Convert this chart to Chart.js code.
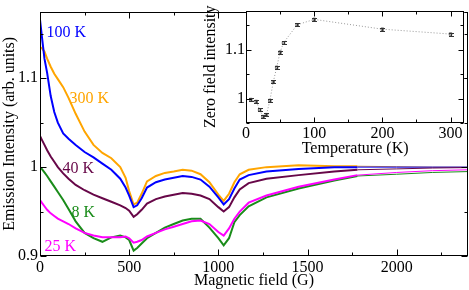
<!DOCTYPE html>
<html>
<head>
<meta charset="utf-8">
<script src="https://cdn.jsdelivr.net/npm/chart.js@4.4.1/dist/chart.umd.min.js"></script>
<style>
  html, body { margin: 0; padding: 0; background: #fff; }
  #wrap { position: relative; width: 469px; height: 290px; }
  #main { position: absolute; left: 0; top: 0; }
  #inset { position: absolute; left: 180px; top: 0; }
</style>
</head>
<body>
<div id="wrap">
  <canvas id="main" width="469" height="290"></canvas>
  <canvas id="inset" width="289" height="160"></canvas>
</div>
<script>
// magnetic field (G) where the curves were read
const field = [0, 10, 25, 40, 60, 80, 100, 130, 160, 200, 250, 300, 350, 400, 450, 480, 500, 525, 545, 570,
  600, 650, 700, 750, 800, 850, 900, 950, 1000, 1030, 1060, 1090, 1120, 1170, 1270, 1450, 1650, 1780];

const int100K = [1.166, 1.148, 1.122, 1.106, 1.080, 1.062, 1.050, 1.038, 1.032, 1.025, 1.017, 1.011, 1.004, 0.997, 0.987, 0.977, 0.968, 0.955, 0.957, 0.965,
  0.977, 0.983, 0.986, 0.988, 0.990, 0.989, 0.986, 0.978, 0.966, 0.958, 0.964, 0.976, 0.986, 0.991, 0.995, 0.998, 1.000, 1.000];
const int300K = [1.135, 1.134, 1.130, 1.122, 1.113, 1.105, 1.099, 1.090, 1.078, 1.060, 1.040, 1.025, 1.016, 1.010, 1.000, 0.988, 0.973, 0.958, 0.960, 0.970,
  0.984, 0.990, 0.9935, 0.995, 0.997, 0.996, 0.992, 0.983, 0.969, 0.962, 0.970, 0.983, 0.992, 0.997, 1.000, 1.002, 1.001, 1.001];
const int40K = [1.035, 1.031, 1.025, 1.019, 1.012, 1.006, 1.000, 0.993, 0.987, 0.980, 0.974, 0.969, 0.965, 0.961, 0.957, 0.954, 0.951, 0.944, 0.947, 0.952,
  0.959, 0.964, 0.967, 0.969, 0.971, 0.970, 0.968, 0.964, 0.955, 0.950, 0.955, 0.966, 0.975, 0.982, 0.987, 0.991, 0.995, 0.997];
const int8K = [1.000, 0.998, 0.994, 0.990, 0.984, 0.978, 0.972, 0.963, 0.953, 0.939, 0.926, 0.920, 0.916, 0.921, 0.923, 0.921, 0.918, 0.906, 0.909, 0.914,
  0.920, 0.926, 0.932, 0.936, 0.940, 0.942, 0.942, 0.932, 0.920, 0.912, 0.920, 0.938, 0.946, 0.956, 0.966, 0.976, 0.985, 0.990];
const int25K = [0.963, 0.960, 0.956, 0.952, 0.948, 0.945, 0.942, 0.939, 0.936, 0.931, 0.926, 0.923, 0.921, 0.921, 0.921, 0.922, 0.920, 0.915, 0.916, 0.918,
  0.922, 0.926, 0.930, 0.933, 0.936, 0.939, 0.940, 0.936, 0.927, 0.923, 0.931, 0.942, 0.950, 0.960, 0.968, 0.978, 0.986, 0.991];

// fitted curves continuing past the measured range
const fitField = [1780, 2000, 2200, 2400];
const fit100K = [1.000, 1.000, 1.000, 1.000];
const fit300K = [1.001, 1.0005, 1.000, 1.000];
const fit40K = [0.997, 0.998, 0.999, 0.9995];
const fit8K = [0.990, 0.992, 0.994, 0.995];
const fit25K = [0.991, 0.994, 0.996, 0.997];

// inset: zero field intensity vs temperature
const temps = [7, 15, 20, 25, 30, 35, 40, 45, 50, 55, 75, 100, 200, 300];
const zeroField = [0.998, 0.994, 0.977, 0.963, 0.967, 0.996, 1.034, 1.064, 1.095, 1.114, 1.151, 1.162, 1.142, 1.132];
const zeroFieldErr = [0.003, 0.003, 0.003, 0.003, 0.003, 0.003, 0.003, 0.003, 0.003, 0.003, 0.003, 0.003, 0.003, 0.003];

const curveLabels = [
  { text: '100 K', x: 36, y: 1.151, color: '#0000ff' },
  { text: '300 K', x: 165, y: 1.0764, color: '#ffa500' },
  { text: '40 K', x: 126, y: 0.9976, color: '#670748' },
  { text: '8 K', x: 177, y: 0.949, color: '#1a8c1a' },
  { text: '25 K', x: 25, y: 0.910, color: '#ff00ff' }
];

Chart.defaults.font.family = "'Liberation Serif', 'Times New Roman', serif";
Chart.defaults.font.size = 16;
Chart.defaults.color = '#000';

const pts = (xs, ys) => xs.map((x, i) => ({ x: x, y: ys[i] }));

function line(label, xs, ys, color, width) {
  return {
    label: label,
    data: pts(xs, ys),
    borderColor: color,
    borderWidth: width,
    pointRadius: 0,
    tension: 0,
    fill: false
  };
}

// box around the plot with inward ticks on all four sides
const frameTicks = {
  id: 'frameTicks',
  afterDraw(chart, args, opts) {
    const { ctx, chartArea: a } = chart;
    const xs = chart.scales.x, ys = chart.scales.y;
    const L = Math.round(a.left) + 0.5, R = Math.round(a.right) - 0.5;
    const T = Math.round(a.top) + 0.5, B = Math.round(a.bottom) - 0.5;
    ctx.save();
    ctx.strokeStyle = '#000';
    ctx.lineWidth = 1;
    ctx.strokeRect(L, T, R - L, B - T);
    ctx.beginPath();
    xs.ticks.forEach(t => {
      const p = Math.round(xs.getPixelForValue(t.value)) + 0.5;
      const len = t.label !== '' ? opts.major : opts.minor;
      ctx.moveTo(p, B); ctx.lineTo(p, B - len);
      ctx.moveTo(p, T); ctx.lineTo(p, T + len);
    });
    ys.ticks.forEach(t => {
      const p = Math.round(ys.getPixelForValue(t.value)) + 0.5;
      const len = t.label !== '' ? opts.major : opts.minor;
      ctx.moveTo(L, p); ctx.lineTo(L + len, p);
      ctx.moveTo(R, p); ctx.lineTo(R - len, p);
    });
    ctx.stroke();
    ctx.restore();
  }
};

const textLabels = {
  id: 'textLabels',
  afterDatasetsDraw(chart) {
    const { ctx } = chart;
    ctx.save();
    ctx.font = "16px 'Liberation Serif', serif";
    ctx.textAlign = 'left';
    ctx.textBaseline = 'middle';
    curveLabels.forEach(l => {
      ctx.fillStyle = l.color;
      ctx.fillText(l.text, chart.scales.x.getPixelForValue(l.x), chart.scales.y.getPixelForValue(l.y));
    });
    ctx.restore();
  }
};

new Chart(document.getElementById('main'), {
  type: 'line',
  data: {
    datasets: [
      line('25 K', field, int25K, '#ff00ff', 2),
      line('8 K', field, int8K, '#1a8c1a', 2),
      line('40 K', field, int40K, '#670748', 2),
      line('100 K', field, int100K, '#0000ff', 2),
      line('300 K', field, int300K, '#ffa500', 2),
      line('fit 25 K', fitField, fit25K, '#ff00ff', 1),
      line('fit 8 K', fitField, fit8K, '#1a8c1a', 1),
      line('fit 40 K', fitField, fit40K, '#670748', 1),
      line('fit 100 K', fitField, fit100K, '#0000ff', 1),
      line('fit 300 K', fitField, fit300K, '#d08a3a', 1)
    ]
  },
  options: {
    responsive: false,
    animation: false,
    devicePixelRatio: 1,
    layout: { padding: { left: 0, right: 1, top: 2, bottom: 0 } },
    plugins: { legend: { display: false }, tooltip: { enabled: false }, frameTicks: { major: 6, minor: 3 } },
    scales: {
      x: {
        type: 'linear',
        min: 0, max: 2400,
        grid: { display: false, drawTicks: false },
        border: { display: false },
        ticks: {
          stepSize: 250, autoSkip: false, maxRotation: 0, includeBounds: false, padding: 2,
          callback: v => (v % 500 === 0 ? String(v) : '')
        },
        title: { display: true, text: 'Magnetic field (G)', padding: { top: 0, bottom: 0 } },
        afterFit: s => { s.height = 34; }
      },
      y: {
        min: 0.9, max: 1.175,
        grid: { display: false, drawTicks: false },
        border: { display: false },
        ticks: {
          stepSize: 0.05, autoSkip: false, includeBounds: false, padding: 2,
          callback: v => {
            const r = Math.round(v * 100);
            return r % 10 === 0 ? String(r / 100) : '';
          }
        },
        title: { display: true, text: 'Emission Intensity (arb. units)', padding: { top: 0, bottom: 0 } },
        afterFit: s => { s.width = 40; }
      }
    }
  },
  plugins: [frameTicks, textLabels]
});

// white plot area for the inset, drawn over the main curves
const insetBg = {
  id: 'insetBg',
  beforeDraw(chart) {
    const { ctx, chartArea: a } = chart;
    ctx.save();
    ctx.fillStyle = '#fff';
    ctx.fillRect(a.left, a.top, a.right - a.left, a.bottom - a.top);
    ctx.restore();
  }
};

const errorBars = {
  id: 'errorBars',
  afterDatasetsDraw(chart) {
    const { ctx } = chart;
    const xs = chart.scales.x, ys = chart.scales.y;
    ctx.save();
    ctx.strokeStyle = '#333';
    ctx.lineWidth = 1;
    ctx.beginPath();
    temps.forEach((t, i) => {
      const px = Math.round(xs.getPixelForValue(t)) + 0.5;
      const top = Math.round(ys.getPixelForValue(zeroField[i] + zeroFieldErr[i])) + 0.5;
      const bot = Math.round(ys.getPixelForValue(zeroField[i] - zeroFieldErr[i])) + 0.5;
      ctx.moveTo(px, top); ctx.lineTo(px, bot);
      ctx.moveTo(px - 2.5, top); ctx.lineTo(px + 2.5, top);
      ctx.moveTo(px - 2.5, bot); ctx.lineTo(px + 2.5, bot);
    });
    ctx.stroke();
    ctx.restore();
  }
};

new Chart(document.getElementById('inset'), {
  type: 'line',
  data: {
    datasets: [{
      label: 'Zero field intensity',
      data: pts(temps, zeroField),
      borderColor: '#999',
      borderWidth: 1,
      borderDash: [1, 2],
      pointStyle: 'rect',
      pointRadius: 1.8,
      pointBackgroundColor: '#bbb',
      pointBorderColor: '#555',
      pointBorderWidth: 0.8,
      tension: 0,
      fill: false
    }]
  },
  options: {
    responsive: false,
    animation: false,
    devicePixelRatio: 1,
    layout: { padding: { left: 21, right: 2, top: 2, bottom: 0 } },
    plugins: { legend: { display: false }, tooltip: { enabled: false }, frameTicks: { major: 5, minor: 3 } },
    scales: {
      x: {
        type: 'linear',
        min: 0, max: 320,
        grid: { display: false, drawTicks: false },
        border: { display: false },
        ticks: {
          stepSize: 50, autoSkip: false, maxRotation: 0, includeBounds: false, padding: 1,
          callback: v => (v % 100 === 0 ? String(v) : '')
        },
        title: { display: true, text: 'Temperature (K)', padding: { top: 0, bottom: 2 } },
        afterFit: s => { s.height = 37; }
      },
      y: {
        min: 0.95, max: 1.18,
        grid: { display: false, drawTicks: false },
        border: { display: false },
        ticks: {
          stepSize: 0.05, autoSkip: false, includeBounds: false, padding: 1,
          callback: v => {
            const r = Math.round(v * 100);
            return r % 10 === 0 ? String(r / 100) : '';
          }
        },
        title: { display: true, text: 'Zero field intensity', padding: { top: 0, bottom: 0 } },
        afterFit: s => { s.width = 45; }
      }
    }
  },
  plugins: [insetBg, errorBars, frameTicks]
});
</script>
</body>
</html>
